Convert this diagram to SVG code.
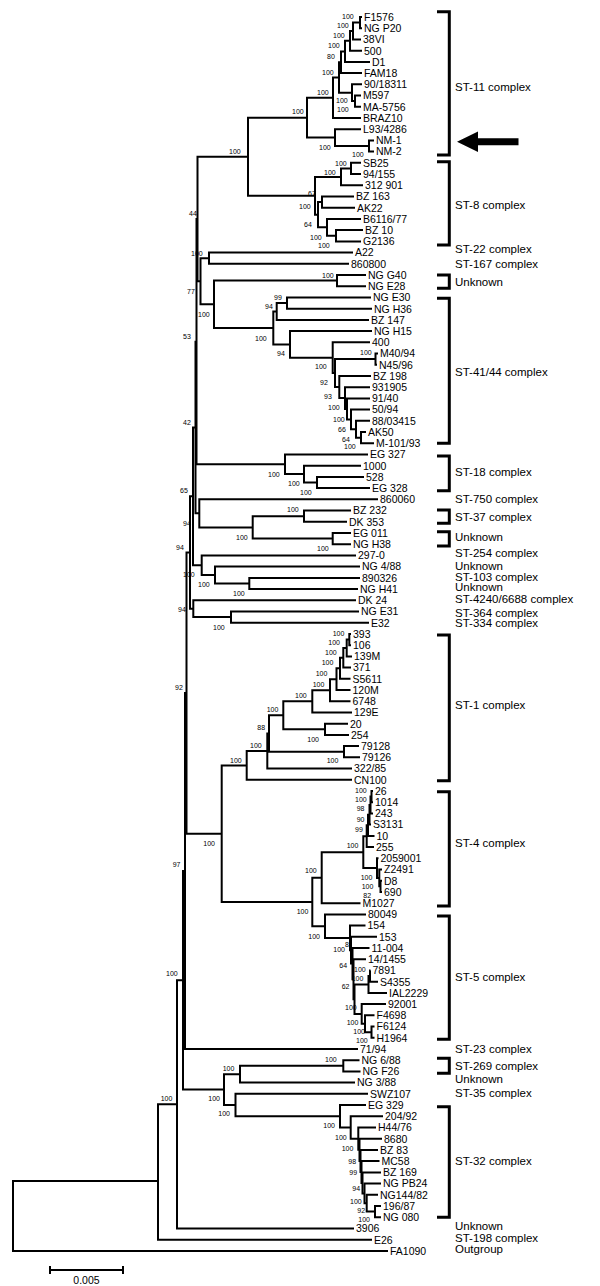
<svg xmlns="http://www.w3.org/2000/svg" width="600" height="1286" viewBox="0 0 600 1286">
<style>
.br{fill:none;stroke:#000;stroke-width:2;stroke-linejoin:miter}
.bk{fill:none;stroke:#000;stroke-width:3}
text{font-family:"Liberation Sans",Arial,sans-serif;fill:#000}
.lf{font-size:10.5px}
.bs{font-size:7px;fill:#1a1a1a}
.cx{font-size:11.5px}
.gs{opacity:0.995}
</style>
<rect width="600" height="1286" fill="#fff"/>
<g id="connectors" class="br">
<path d="M362,17H360V28.2H362"/>
<path d="M360,22.6H353V39.4H361"/>
<path d="M353,31H350V50.7H362"/>
<path d="M350,40.85H345V61.9H370"/>
<path d="M345,51.4H341V73.1H362"/>
<path d="M361,95.5H355V106.7H361"/>
<path d="M362,84.3H352V101.1H355"/>
<path d="M341,62.25H339V92.7H352"/>
<path d="M339,77.5H333V118H361"/>
<path d="M374,140.4H369V151.6H374"/>
<path d="M361,129.2H335V146H369"/>
<path d="M333,97.75H307V137.6H335"/>
<path d="M361,162.8H351V174.1H361"/>
<path d="M351,168.45H341V185.3H363"/>
<path d="M354,196.5H322V207.7H355"/>
<path d="M363,230.1H336V241.4H361"/>
<path d="M361,218.9H327V235.75H336"/>
<path d="M322,202.1H318V227.3H327"/>
<path d="M341,176.9H315V214.7H318"/>
<path d="M307,117.7H248V195.8H315"/>
<path d="M353,252.6H209V263.8H349"/>
<path d="M366,275H337V286.2H366"/>
<path d="M371,297.4H287V308.7H372"/>
<path d="M287,303.05H276.7V319.9H369"/>
<path d="M378,353.5H375.5V364.7H377"/>
<path d="M366,432H361V443.3H374"/>
<path d="M370,420.8H356V437.65H361"/>
<path d="M370,409.6H351V429.2H356"/>
<path d="M370,398.4H347V419.4H351"/>
<path d="M370,387.2H345V408.9H347"/>
<path d="M371,376H339.3V398.05H345"/>
<path d="M375.5,359.1H335V387H339.3"/>
<path d="M370,342.3H332.7V373.05H335"/>
<path d="M372,331.1H290V357.7H332.7"/>
<path d="M276.7,311.5H273.3V344.4H290"/>
<path d="M337,280.6H214V327.95H273.3"/>
<path d="M209,258.2H200.5V304.3H214"/>
<path d="M248,156.75H197.5V281.25H200.5"/>
<path d="M364,476.9H317V488.1H370"/>
<path d="M361,465.7H304V482.5H317"/>
<path d="M368,454.5H285V474.1H304"/>
<path d="M197.5,219H196.5V464.3H285"/>
<path d="M351,510.6H304V521.8H347"/>
<path d="M351,533H332.7V544.2H351"/>
<path d="M304,516.2H252.7V538.6H332.7"/>
<path d="M378,499.3H199.3V527.4H252.7"/>
<path d="M196.5,341.65H195.5V513.35H199.3"/>
<path d="M360,577.9H249.3V589.1H358"/>
<path d="M360,566.6H215V583.5H249.3"/>
<path d="M356,555.4H201.7V575.05H215"/>
<path d="M195.5,427.5H193V565.2H201.7"/>
<path d="M359,611.5H231V622.7H369"/>
<path d="M356,600.3H193.3V617.1H231"/>
<path d="M193,496.35H190V608.7H193.3"/>
<path d="M351,633.9H349.3V645.2H351"/>
<path d="M349.3,639.55H346.7V656.4H352"/>
<path d="M346.7,648H343.3V667.6H351"/>
<path d="M343.3,657.8H340V678.8H350.5"/>
<path d="M340,668.3H336.5V690H350.5"/>
<path d="M336.5,679.15H330V701.2H350.5"/>
<path d="M330,690.2H312.3V712.5H352"/>
<path d="M348,723.7H325V734.9H349"/>
<path d="M312.3,701.35H283.3V729.3H325"/>
<path d="M359,746.1H344V757.3H360"/>
<path d="M283.3,715.3H269V751.7H344"/>
<path d="M269,733.5H267.3V768.6H352"/>
<path d="M267.3,751.05H246.7V779.8H352"/>
<path d="M373,791H371.5V802.2H373"/>
<path d="M371.5,796.6H370.5V813.4H373"/>
<path d="M370.5,805H369.5V824.6H371"/>
<path d="M369.5,814.8H368V835.9H374.5"/>
<path d="M368,825.35H366.7V847.1H374"/>
<path d="M382,880.7H380.5V891.9H382"/>
<path d="M382,869.5H379.3V886.3H380.5"/>
<path d="M378.5,858.3H377V877.9H379.3"/>
<path d="M366.7,836.2H363.3V868.1H377"/>
<path d="M363.3,852.15H321.7V903.2H360.5"/>
<path d="M374.5,1026.5H371.5V1037.8H374.5"/>
<path d="M374.5,1015.3H365V1032.15H371.5"/>
<path d="M386,1004.1H361.7V1023.7H365"/>
<path d="M370.5,970.5H370V981.7H378"/>
<path d="M370,976.1H368.5V992.9H387"/>
<path d="M368.5,984.5H354.5V1013.9H361.7"/>
<path d="M366,959.2H353.5V999.2H354.5"/>
<path d="M369.5,948H352.5V979.2H353.5"/>
<path d="M377,936.8H351V963.6H352.5"/>
<path d="M365.5,925.6H350V950.2H351"/>
<path d="M366,914.4H325V937.9H350"/>
<path d="M321.7,877.7H312.3V926.15H325"/>
<path d="M246.7,765.4H221.7V901.9H312.3"/>
<path d="M190,552.5H186.5V833.65H221.7"/>
<path d="M186.5,693.1H185V1049H358"/>
<path d="M359.5,1060.2H343.3V1071.4H360.5"/>
<path d="M343.3,1065.8H240V1082.6H355"/>
<path d="M381,1206H375V1217.2H381"/>
<path d="M378,1194.8H366.7V1211.6H375"/>
<path d="M381,1183.6H364.5V1203.2H366.7"/>
<path d="M381,1172.4H362.5V1193.4H364.5"/>
<path d="M379.5,1161.1H361.5V1182.9H362.5"/>
<path d="M378,1149.9H360.5V1172H361.5"/>
<path d="M382,1138.7H359.5V1160.95H360.5"/>
<path d="M376,1127.5H358.3V1149.8H359.5"/>
<path d="M383,1116.3H350.7V1138.65H358.3"/>
<path d="M366,1105.1H340V1127.5H350.7"/>
<path d="M368,1093.8H235.5V1116.3H340"/>
<path d="M240,1074.2H224V1105.05H235.5"/>
<path d="M185,871.05H183V1089.6H224"/>
<path d="M183,980.3H177V1228.4H354"/>
<path d="M177,1104.35H158V1239.7H372"/>
<path d="M158,1181H13V1250.9H388"/>
</g>
<g id="leaves" class="lf gs">
<g id="n-F1576"><text x="364" y="20.8">F1576</text></g>
<g id="n-NGP20"><text x="364" y="32">NG P20</text></g>
<g id="n-38VI"><text x="363" y="43.2">38VI</text></g>
<g id="n-500"><text x="364" y="54.5">500</text></g>
<g id="n-D1"><text x="372" y="65.7">D1</text></g>
<g id="n-FAM18"><text x="364" y="76.9">FAM18</text></g>
<g id="n-90-18311"><text x="364" y="88.1">90/18311</text></g>
<g id="n-M597"><text x="363" y="99.3">M597</text></g>
<g id="n-MA-5756"><text x="363" y="110.5">MA-5756</text></g>
<g id="n-BRAZ10"><text x="363" y="121.8">BRAZ10</text></g>
<g id="n-L93-4286"><text x="363" y="133">L93/4286</text></g>
<g id="n-NM-1"><text x="376" y="144.2">NM-1</text></g>
<g id="n-NM-2"><text x="376" y="155.4">NM-2</text></g>
<g id="n-SB25"><text x="363" y="166.6">SB25</text></g>
<g id="n-94-155"><text x="363" y="177.9">94/155</text></g>
<g id="n-312901"><text x="365" y="189.1">312 901</text></g>
<g id="n-BZ163"><text x="356" y="200.3">BZ 163</text></g>
<g id="n-AK22"><text x="357" y="211.5">AK22</text></g>
<g id="n-B6116-77"><text x="363" y="222.7">B6116/77</text></g>
<g id="n-BZ10"><text x="365" y="233.9">BZ 10</text></g>
<g id="n-G2136"><text x="363" y="245.2">G2136</text></g>
<g id="n-A22"><text x="355" y="256.4">A22</text></g>
<g id="n-860800"><text x="351" y="267.6">860800</text></g>
<g id="n-NGG40"><text x="368" y="278.8">NG G40</text></g>
<g id="n-NGE28"><text x="368" y="290">NG E28</text></g>
<g id="n-NGE30"><text x="373" y="301.2">NG E30</text></g>
<g id="n-NGH36"><text x="374" y="312.5">NG H36</text></g>
<g id="n-BZ147"><text x="371" y="323.7">BZ 147</text></g>
<g id="n-NGH15"><text x="374" y="334.9">NG H15</text></g>
<g id="n-400"><text x="372" y="346.1">400</text></g>
<g id="n-M40-94"><text x="380" y="357.3">M40/94</text></g>
<g id="n-N45-96"><text x="379" y="368.5">N45/96</text></g>
<g id="n-BZ198"><text x="373" y="379.8">BZ 198</text></g>
<g id="n-931905"><text x="372" y="391">931905</text></g>
<g id="n-91-40"><text x="372" y="402.2">91/40</text></g>
<g id="n-50-94"><text x="372" y="413.4">50/94</text></g>
<g id="n-88-03415"><text x="372" y="424.6">88/03415</text></g>
<g id="n-AK50"><text x="368" y="435.8">AK50</text></g>
<g id="n-M-101-93"><text x="376" y="447.1">M-101/93</text></g>
<g id="n-EG327"><text x="370" y="458.3">EG 327</text></g>
<g id="n-1000"><text x="363" y="469.5">1000</text></g>
<g id="n-528"><text x="366" y="480.7">528</text></g>
<g id="n-EG328"><text x="372" y="491.9">EG 328</text></g>
<g id="n-860060"><text x="380" y="503.1">860060</text></g>
<g id="n-BZ232"><text x="353" y="514.4">BZ 232</text></g>
<g id="n-DK353"><text x="349" y="525.6">DK 353</text></g>
<g id="n-EG011"><text x="353" y="536.8">EG 011</text></g>
<g id="n-NGH38"><text x="353" y="548">NG H38</text></g>
<g id="n-297-0"><text x="358" y="559.2">297-0</text></g>
<g id="n-NG4-88"><text x="362" y="570.4">NG 4/88</text></g>
<g id="n-890326"><text x="362" y="581.7">890326</text></g>
<g id="n-NGH41"><text x="360" y="592.9">NG H41</text></g>
<g id="n-DK24"><text x="358" y="604.1">DK 24</text></g>
<g id="n-NGE31"><text x="361" y="615.3">NG E31</text></g>
<g id="n-E32"><text x="371" y="626.5">E32</text></g>
<g id="n-393"><text x="353" y="637.7">393</text></g>
<g id="n-106"><text x="353" y="649">106</text></g>
<g id="n-139M"><text x="354" y="660.2">139M</text></g>
<g id="n-371"><text x="353" y="671.4">371</text></g>
<g id="n-S5611"><text x="352.5" y="682.6">S5611</text></g>
<g id="n-120M"><text x="352.5" y="693.8">120M</text></g>
<g id="n-6748"><text x="352.5" y="705">6748</text></g>
<g id="n-129E"><text x="354" y="716.3">129E</text></g>
<g id="n-20"><text x="350" y="727.5">20</text></g>
<g id="n-254"><text x="351" y="738.7">254</text></g>
<g id="n-79128"><text x="361" y="749.9">79128</text></g>
<g id="n-79126"><text x="362" y="761.1">79126</text></g>
<g id="n-322-85"><text x="354" y="772.4">322/85</text></g>
<g id="n-CN100"><text x="354" y="783.6">CN100</text></g>
<g id="n-26"><text x="375" y="794.8">26</text></g>
<g id="n-1014"><text x="375" y="806">1014</text></g>
<g id="n-243"><text x="375" y="817.2">243</text></g>
<g id="n-S3131"><text x="373" y="828.4">S3131</text></g>
<g id="n-10"><text x="376.5" y="839.7">10</text></g>
<g id="n-255"><text x="376" y="850.9">255</text></g>
<g id="n-2059001"><text x="380.5" y="862.1">2059001</text></g>
<g id="n-Z2491"><text x="384" y="873.3">Z2491</text></g>
<g id="n-D8"><text x="384" y="884.5">D8</text></g>
<g id="n-690"><text x="384" y="895.7">690</text></g>
<g id="n-M1027"><text x="362.5" y="907">M1027</text></g>
<g id="n-80049"><text x="368" y="918.2">80049</text></g>
<g id="n-154"><text x="367.5" y="929.4">154</text></g>
<g id="n-153"><text x="379" y="940.6">153</text></g>
<g id="n-11-004"><text x="371.5" y="951.8">11-004</text></g>
<g id="n-14-1455"><text x="368" y="963">14/1455</text></g>
<g id="n-7891"><text x="372.5" y="974.3">7891</text></g>
<g id="n-S4355"><text x="380" y="985.5">S4355</text></g>
<g id="n-IAL2229"><text x="389" y="996.7">IAL2229</text></g>
<g id="n-92001"><text x="388" y="1007.9">92001</text></g>
<g id="n-F4698"><text x="376.5" y="1019.1">F4698</text></g>
<g id="n-F6124"><text x="376.5" y="1030.3">F6124</text></g>
<g id="n-H1964"><text x="376.5" y="1041.6">H1964</text></g>
<g id="n-71-94"><text x="360" y="1052.8">71/94</text></g>
<g id="n-NG6-88"><text x="361.5" y="1064">NG 6/88</text></g>
<g id="n-NGF26"><text x="362.5" y="1075.2">NG F26</text></g>
<g id="n-NG3-88"><text x="357" y="1086.4">NG 3/88</text></g>
<g id="n-SWZ107"><text x="370" y="1097.6">SWZ107</text></g>
<g id="n-EG329"><text x="368" y="1108.9">EG 329</text></g>
<g id="n-204-92"><text x="385" y="1120.1">204/92</text></g>
<g id="n-H44-76"><text x="378" y="1131.3">H44/76</text></g>
<g id="n-8680"><text x="384" y="1142.5">8680</text></g>
<g id="n-BZ83"><text x="380" y="1153.7">BZ 83</text></g>
<g id="n-MC58"><text x="381.5" y="1164.9">MC58</text></g>
<g id="n-BZ169"><text x="383" y="1176.2">BZ 169</text></g>
<g id="n-NGPB24"><text x="383" y="1187.4">NG PB24</text></g>
<g id="n-NG144-82"><text x="380" y="1198.6">NG144/82</text></g>
<g id="n-196-87"><text x="383" y="1209.8">196/87</text></g>
<g id="n-NG080"><text x="383" y="1221">NG 080</text></g>
<g id="n-3906"><text x="356" y="1232.2">3906</text></g>
<g id="n-E26"><text x="374" y="1243.5">E26</text></g>
<g id="n-FA1090"><text x="390" y="1254.7">FA1090</text></g>
</g>
<g id="bootstrap" class="bs gs">
<text x="342" y="18.5">100</text><text x="337" y="27.5">100</text><text x="333" y="37.5">100</text><text x="328" y="47.5">100</text><text x="327" y="58.5">80</text><text x="322" y="74.5">100</text><text x="317" y="94.5">100</text><text x="336" y="102.5">100</text><text x="337" y="111.5">100</text><text x="292" y="113.5">100</text><text x="319" y="149.5">100</text><text x="352" y="156.5">100</text><text x="229" y="153.5">100</text>
<text x="335" y="165.5">100</text><text x="324" y="174.5">100</text><text x="308" y="195.5">67</text><text x="299" y="208.5">100</text><text x="304" y="226.5">64</text><text x="310" y="239.5">100</text><text x="318" y="247.5">100</text>
<text x="189" y="215.5">44</text><text x="191" y="255.5">100</text><text x="187" y="293.5">77</text><text x="198" y="316.5">100</text><text x="322" y="277.5">100</text><text x="274" y="299.5">99</text><text x="265" y="308.5">94</text><text x="255" y="340.5">100</text><text x="277" y="355.5">94</text><text x="183" y="338.5">53</text><text x="183" y="424.5">42</text>
<text x="360" y="355.2">100</text><text x="315" y="369.2">100</text><text x="320" y="385.2">92</text><text x="324" y="399.2">93</text><text x="328" y="409.5">100</text><text x="333" y="421.5">100</text><text x="338" y="431.5">66</text><text x="342" y="441.5">64</text><text x="344" y="449.2">100</text>
<text x="268" y="476.5">100</text><text x="288" y="485.5">100</text><text x="300" y="494.5">100</text>
<text x="180" y="492.5">65</text><text x="183" y="525.5">94</text><text x="287" y="511.5">100</text><text x="236" y="539.5">100</text><text x="317" y="550.5">100</text><text x="176" y="549.5">94</text><text x="183" y="576.5">100</text><text x="198" y="586.5">100</text><text x="233" y="595.5">100</text><text x="178" y="611.5">94</text><text x="213" y="629.5">100</text>
<text x="332.7" y="635.8">100</text><text x="328.3" y="645.2">100</text><text x="325" y="655.2">100</text><text x="321.7" y="665.2">100</text><text x="315.7" y="675.8">100</text><text x="312.7" y="686.8">100</text><text x="295" y="697.5">100</text><text x="266.7" y="711.8">100</text><text x="307.3" y="741.5">100</text><text x="257.3" y="729.8">88</text><text x="250" y="747.5">100</text><text x="326.7" y="763.2">100</text><text x="230" y="762.5">100</text><text x="175" y="689.5">92</text>
<text x="355" y="792.5">100</text><text x="355" y="801.8">100</text><text x="356.7" y="810.8">98</text><text x="356.7" y="821.8">90</text><text x="355" y="831.8">99</text><text x="346.7" y="847.5">100</text><text x="360.7" y="879.8">100</text><text x="361.7" y="889.2">100</text><text x="363.3" y="897.5">82</text><text x="305" y="873.2">100</text><text x="296.7" y="914.2">100</text><text x="203.3" y="845.8">100</text><text x="172.7" y="866.5">97</text>
<text x="308.3" y="939.2">100</text><text x="345" y="946.5">8</text><text x="333.3" y="951.8">100</text><text x="339.3" y="967.5">64</text><text x="354" y="971.5">100</text><text x="351.7" y="980.8">100</text><text x="341.7" y="988.5">62</text><text x="345" y="1010.2">100</text><text x="346.7" y="1025.2">100</text><text x="353.3" y="1034.2">100</text><text x="356" y="1042.5">100</text>
<text x="166" y="975.8">100</text><text x="325" y="1061.8">100</text><text x="222.7" y="1070.8">100</text><text x="208.3" y="1100.8">100</text><text x="160.7" y="1100.8">100</text>
<text x="218.3" y="1115.8">100</text><text x="323.3" y="1127.5">100</text><text x="335" y="1139.8">100</text><text x="341.7" y="1150.8">100</text><text x="348.3" y="1163.5">98</text><text x="349.3" y="1175.2">99</text><text x="352.3" y="1190.8">94</text><text x="350" y="1204.2">100</text><text x="357.3" y="1213.2">92</text><text x="358.3" y="1221.8">100</text>
</g>
<g id="brackets" class="bk">
<path d="M437,11.7H449.3V155H437"/>
<path d="M437,161.7H449.3V245H437"/>
<path d="M437,275H449.3V288.3H437"/>
<path d="M437,298.3H449.3V443.3H437"/>
<path d="M437,456H449.3V490.7H437"/>
<path d="M437,510H449.3V523.3H437"/>
<path d="M437,531.7H449.3V546H437"/>
<path d="M437,635H449.3V780.7H437"/>
<path d="M437,791.7H449.3V906H437"/>
<path d="M437,916H449.3V1039.3H437"/>
<path d="M437,1058.3H449.3V1073.3H437"/>
<path d="M437,1106.7H449.3V1217.3H437"/>
</g>
<g id="arrow"><polygon points="457,141.7 478,131.5 478,138.3 518.5,138.3 518.5,145.2 478,145.2 478,152" fill="#000"/></g>
<g id="complexes" class="cx gs">
<text x="455" y="91.4">ST-11 complex</text>
<text x="455" y="209.1">ST-8 complex</text>
<text x="455" y="253.4">ST-22 complex</text>
<text x="455" y="268.1">ST-167 complex</text>
<text x="455" y="286.4">Unknown</text>
<text x="455" y="375.8">ST-41/44 complex</text>
<text x="455" y="475.8">ST-18 complex</text>
<text x="455" y="503.1">ST-750 complex</text>
<text x="455" y="521.4">ST-37 complex</text>
<text x="455" y="540.8">Unknown</text>
<text x="455" y="556.8">ST-254 complex</text>
<text x="455" y="569.8">Unknown</text>
<text x="455" y="580.8">ST-103 complex</text>
<text x="455" y="591.4">Unknown</text>
<text x="455" y="603.4">ST-4240/6688 complex</text>
<text x="455" y="616.8">ST-364 complex</text>
<text x="455" y="627.4">ST-334 complex</text>
<text x="455" y="709.1">ST-1 complex</text>
<text x="455" y="847.4">ST-4 complex</text>
<text x="455" y="980.8">ST-5 complex</text>
<text x="455" y="1053.1">ST-23 complex</text>
<text x="455" y="1069.8">ST-269 complex</text>
<text x="455" y="1083.4">Unknown</text>
<text x="455" y="1096.8">ST-35 complex</text>
<text x="455" y="1165.1">ST-32 complex</text>
<text x="455" y="1230.1">Unknown</text>
<text x="455" y="1242.4">ST-198 complex</text>
<text x="455" y="1253.4">Outgroup</text>
</g>
<g id="scale">
<path d="M50,1270H123M50,1266V1274M123,1266V1274" class="br"/>
<text x="86.5" y="1284" class="lf gs" text-anchor="middle">0.005</text>
</g>
</svg>
